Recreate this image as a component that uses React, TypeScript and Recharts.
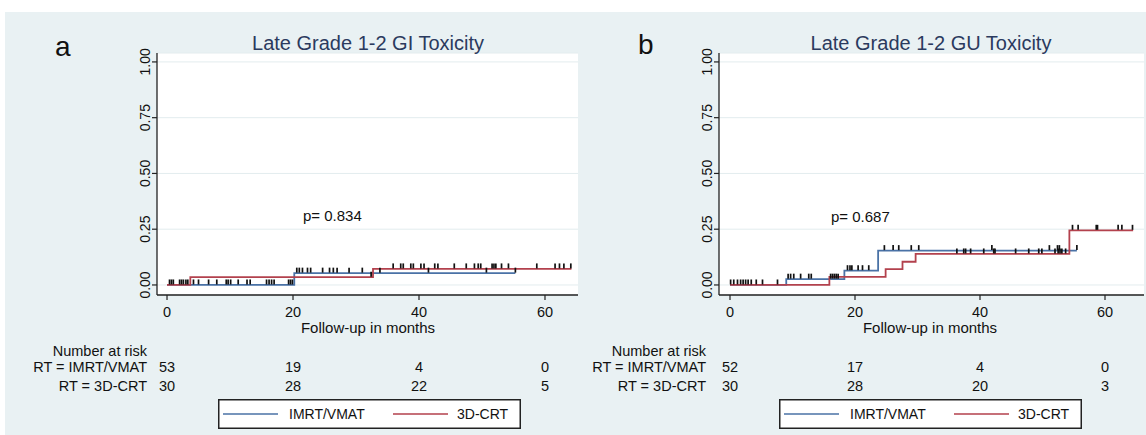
import React from 'react';
import { ComposedChart, Line, Scatter, XAxis, YAxis, CartesianGrid } from 'recharts';

// ---------- shared ticks ----------
const xTicks = [0, 20, 40, 60];
const yTicks = [0, 0.25, 0.5, 0.75, 1];

// ---------- Panel a: Late Grade 1-2 GI Toxicity ----------
const giImrtTimes = [0, 20.2, 55.3];
const giImrtValues = [0, 0.053, 0.053];
const gi3dTimes = [0, 3.7, 32.7, 64.2];
const gi3dValues = [0, 0.035, 0.072, 0.072];
const giImrtCensor = [0.4, 0.7, 1.0, 2.0, 2.3, 2.6, 3.0, 3.3, 4.2, 5.0, 6.6, 7.9, 9.4, 9.7, 10.1, 11.3, 12.7, 13.2, 15.8, 16.2, 16.6, 17.0, 19.3, 19.6, 19.9,
  20.6, 21.0, 21.5, 22.3, 22.8, 24.7, 25.8, 26.4, 27.0, 28.9, 31.0, 33.8, 41.5, 50.7, 55.3];
const gi3dCensor = [32.4, 35.9, 37.1, 37.5, 38.7, 39.1, 40.3, 40.8, 42.5, 43.0, 45.6, 47.5, 48.8, 49.4, 49.8, 51.6, 51.9, 52.2, 53.1, 54.2,
  58.7, 61.6, 62.3, 63.0, 64.1];
const giRiskImrt = [53, 19, 4, 0];
const giRisk3d = [30, 28, 22, 5];
const giP = 'p= 0.834';

// ---------- Panel b: Late Grade 1-2 GU Toxicity ----------
const guImrtTimes = [0, 9.0, 18.3, 23.7, 55.5];
const guImrtValues = [0, 0.026, 0.064, 0.154, 0.154];
const gu3dTimes = [0, 15.9, 24.9, 27.6, 29.7, 54.3, 64.5];
const gu3dValues = [0, 0.036, 0.071, 0.104, 0.139, 0.245, 0.245];
const guImrtCensor = [0.1, 0.6, 1.2, 1.7, 2.1, 2.5, 2.9, 3.4, 4.2, 5.2,
  9.3, 9.7, 10.2, 11.3, 12.6, 13.0, 16.1, 16.4, 16.7, 17.0, 17.3,
  18.8, 19.2, 19.5, 20.5, 21.2, 22.2,
  24.7, 26.1, 27.0, 29.0, 30.2, 41.9, 51.1, 52.4, 52.7, 55.5];
const gu3dCensor = [7.6, 36.3, 37.4, 37.7, 38.5, 40.6, 42.2, 42.4, 45.7, 47.8, 49.4, 49.9, 52.0, 52.5, 52.8, 53.1, 53.7,
  54.8, 55.7, 58.6, 58.8, 62.1, 62.7, 64.4];
const guRiskImrt = [52, 17, 4, 0];
const guRisk3d = [30, 28, 20, 3];
const guP = 'p= 0.687';

const groupNames = ['IMRT/VMAT', '3D-CRT'];
const riskRowLabels = ['RT = IMRT/VMAT', 'RT = 3D-CRT'];

// ---------- styling ----------
const BLUE = '#4a72a6';
const RED = '#b3414d';
const BG = '#e9f1f3';
const GRID = '#e3ecee';
const TXT = '#111111';
const TITLE = '#2b3a5e';
const FONT = '"Liberation Sans", Arial, sans-serif';

const toPoints = (ts: number[], vs: number[]) => ts.map((t, i) => ({ t, v: vs[i] }));
const levelAt = (ts: number[], vs: number[], t: number) => {
  let v = vs[0];
  for (let i = 0; i < ts.length; i++) if (ts[i] <= t) v = vs[i];
  return v;
};
const censorPoints = (cs: number[], ts: number[], vs: number[]) => cs.map((t) => ({ t, v: levelAt(ts, vs, t) }));

const CensorMark = (props: any) => {
  const { cx, cy } = props;
  if (cx == null || cy == null) return null;
  return <line x1={cx} x2={cx} y1={cy - 0.5} y2={cy - 5.5} stroke="#111" strokeWidth={1.7} />;
};

const YTick = (props: any) => {
  const { x, y, payload } = props;
  const cx = x - 5;
  return (
    <text x={cx} y={y} transform={`rotate(-90 ${cx} ${y})`} textAnchor="middle" dominantBaseline="central"
      fontSize={14} fill={TXT} fontFamily={FONT}>
      {Number(payload.value).toFixed(2)}
    </text>
  );
};

const makeXTick = (riskA: number[], riskB: number[]) => (props: any) => {
  const { x, y, payload } = props;
  const i = xTicks.indexOf(payload.value);
  return (
    <g fontFamily={FONT} fill={TXT}>
      <text x={x} y={y + 15} textAnchor="middle" fontSize={14.5}>{payload.value}</text>
      <text x={x} y={y + 70} textAnchor="middle" fontSize={14.5}>{riskA[i]}</text>
      <text x={x} y={y + 89} textAnchor="middle" fontSize={14.5}>{riskB[i]}</text>
    </g>
  );
};

const LegendBox = ({ left, top }: { left: number; top: number }) => (
  <svg style={{ position: 'absolute', left, top }} width={303} height={30}>
    <rect x={0.75} y={0.75} width={301.5} height={28.5} fill="#fff" stroke="#222" strokeWidth={1.5} />
    <line x1={5} x2={60} y1={15} y2={15} stroke={BLUE} strokeWidth={1.6} />
    <text x={71} y={20} fontSize={14} fill={TXT} fontFamily={FONT}>{groupNames[0]}</text>
    <line x1={175} x2={230} y1={15} y2={15} stroke={RED} strokeWidth={1.6} />
    <text x={239} y={20} fontSize={14} fill={TXT} fontFamily={FONT}>{groupNames[1]}</text>
  </svg>
);

type PanelProps = {
  left: number;
  width: number;
  marginLeft: number;
  marginRight: number;
  xDomain: number[];
  imrtT: number[]; imrtV: number[];
  crtT: number[]; crtV: number[];
  imrtC: number[]; crtC: number[];
  riskA: number[]; riskB: number[];
};

const Panel = (p: PanelProps) => {
  const XTick = makeXTick(p.riskA, p.riskB);
  return (
    <div style={{ position: 'absolute', left: p.left, top: 0 }}>
      <ComposedChart width={p.width} height={435}
        margin={{ top: 53, right: p.marginRight, left: p.marginLeft, bottom: 110 }}>
        <CartesianGrid vertical={false} fill="#ffffff" stroke={GRID} strokeWidth={1} />
        <XAxis type="number" dataKey="t" domain={p.xDomain} ticks={xTicks} allowDataOverflow interval={0}
          height={30} tickSize={5} axisLine={{ stroke: '#222', strokeWidth: 1.3 }} tickLine={{ stroke: '#222', strokeWidth: 1.2 }}
          tick={<XTick />} />
        <YAxis type="number" dataKey="v" domain={[-0.045, 1.04]} ticks={yTicks} allowDataOverflow interval={0}
          width={40} tickSize={5} axisLine={{ stroke: '#222', strokeWidth: 1.3 }} tickLine={{ stroke: '#222', strokeWidth: 1.2 }}
          tick={<YTick />} />
        <Line data={toPoints(p.imrtT, p.imrtV)} dataKey="v" type="stepAfter" stroke={BLUE} strokeWidth={1.8}
          dot={false} activeDot={false} isAnimationActive={false} />
        <Line data={toPoints(p.crtT, p.crtV)} dataKey="v" type="stepAfter" stroke={RED} strokeWidth={1.8}
          dot={false} activeDot={false} isAnimationActive={false} />
        <Scatter data={censorPoints(p.imrtC, p.imrtT, p.imrtV)} dataKey="v" shape={<CensorMark />} isAnimationActive={false} />
        <Scatter data={censorPoints(p.crtC, p.crtT, p.crtV)} dataKey="v" shape={<CensorMark />} isAnimationActive={false} />
      </ComposedChart>
    </div>
  );
};

const Texts = () => (
  <svg style={{ position: 'absolute', left: 0, top: 0, pointerEvents: 'none' }} width={1146} height={435} fontFamily={FONT}>
    <text x={55} y={56} fontSize={28} fill="#111">a</text>
    <text x={638} y={54} fontSize={28} fill="#111">b</text>
    <text x={368} y={50} fontSize={20} fill={TITLE} textAnchor="middle">Late Grade 1-2 GI Toxicity</text>
    <text x={931} y={50} fontSize={20} fill={TITLE} textAnchor="middle">Late Grade 1-2 GU Toxicity</text>
    <text x={303} y={220.5} fontSize={15} fill={TXT}>{giP}</text>
    <text x={831} y={221.5} fontSize={15} fill={TXT}>{guP}</text>
    <text x={368} y={333} fontSize={15} fill={TXT} textAnchor="middle">Follow-up in months</text>
    <text x={930} y={333} fontSize={15} fill={TXT} textAnchor="middle">Follow-up in months</text>
    <g fontSize={14.5} fill={TXT} textAnchor="end">
      <text x={147} y={356}>Number at risk</text>
      <text x={147} y={372}>{riskRowLabels[0]}</text>
      <text x={147} y={391}>{riskRowLabels[1]}</text>
      <text x={706} y={356}>Number at risk</text>
      <text x={706} y={372}>{riskRowLabels[0]}</text>
      <text x={706} y={391}>{riskRowLabels[1]}</text>
    </g>
  </svg>
);

export default function App() {
  return (
    <div style={{ position: 'absolute', left: 0, top: 0, width: 1146, height: 435, background: '#fff', overflow: 'hidden', fontFamily: FONT }}>
      <div style={{ position: 'absolute', left: 5, top: 12, width: 1141, height: 423, background: BG }} />
      <Panel left={0} width={600} marginLeft={117} marginRight={22} xDomain={[-1.59, 65.24]}
        imrtT={giImrtTimes} imrtV={giImrtValues} crtT={gi3dTimes} crtV={gi3dValues}
        imrtC={giImrtCensor} crtC={gi3dCensor} riskA={giRiskImrt} riskB={giRisk3d} />
      <Panel left={573} width={573} marginLeft={106} marginRight={2} xDomain={[-1.76, 66.24]}
        imrtT={guImrtTimes} imrtV={guImrtValues} crtT={gu3dTimes} crtV={gu3dValues}
        imrtC={guImrtCensor} crtC={gu3dCensor} riskA={guRiskImrt} riskB={guRisk3d} />
      <Texts />
      <LegendBox left={218} top={399} />
      <LegendBox left={779} top={399} />
    </div>
  );
}
